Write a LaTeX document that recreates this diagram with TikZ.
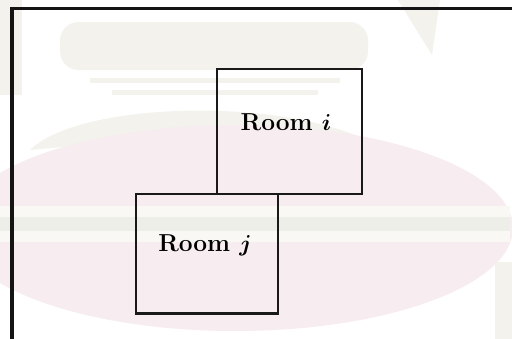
\documentclass[tikz,border=0pt]{standalone}
\usepackage{amsmath}
\begin{document}
\begin{tikzpicture}[x=0.75pt,y=-0.75pt,
  roombox/.style={draw=black!90,line width=2pt,inner sep=0pt,outer sep=0pt},
  roomlabel/.style={anchor=base,inner sep=0pt,font=\fontsize{18.4}{22}\selectfont\bfseries},
  framepen/.style={draw=black!92,line width=2.3pt}]
\definecolor{wmpink}{RGB}{247,236,240}
\definecolor{wmgrey}{RGB}{243,242,237}
\definecolor{wmcream}{RGB}{249,248,244}
\definecolor{wmband}{RGB}{238,238,233}
\useasboundingbox (0,0) rectangle (512,339);
\fill[white] (0,0) rectangle (512,339);
% faint watermark behind the drawing
\fill[wmgrey] (0,0) -- (22,0) -- (22,95) -- (0,95) -- cycle;
\fill[wmgrey] (398,0) -- (440,0) -- (432,55) -- cycle;
\fill[wmgrey,rounded corners=14] (60,22) rectangle (368,70);
\fill[wmgrey] (90,78) rectangle (340,83);
\fill[wmgrey] (112,90) rectangle (318,95);
\fill[wmgrey] (30,150) .. controls (80,100) and (300,95) .. (385,150) .. controls (300,140) and (120,140) .. cycle;
\fill[wmpink] (235,228) ellipse [x radius=278, y radius=103];
\fill[wmcream] (0,206) rectangle (510,242);
\fill[wmband] (0,217) rectangle (510,231);
\fill[wmgrey] (495,262) rectangle (512,339);
% open frame: top and left edges
\coordinate (ftr) at (512,8.5);
\coordinate (ftl) at (12,8.5);
\coordinate (fbl) at (12,339);
\draw[framepen] (ftr) -- (ftl) -- (fbl);
% the two rooms
\node[roombox,minimum width=108.75pt,minimum height=93.75pt] (ri) at (289.5,131.5) {};
\node[roombox,minimum width=106.5pt,minimum height=89.6pt] (rj) at (207,253.8) {};
\node[roomlabel] (li) at (286,131) {Room~{\boldmath$i$}};
\node[roomlabel] (lj) at (205,252) {Room~{\boldmath$j$}};
\end{tikzpicture}
\end{document}
